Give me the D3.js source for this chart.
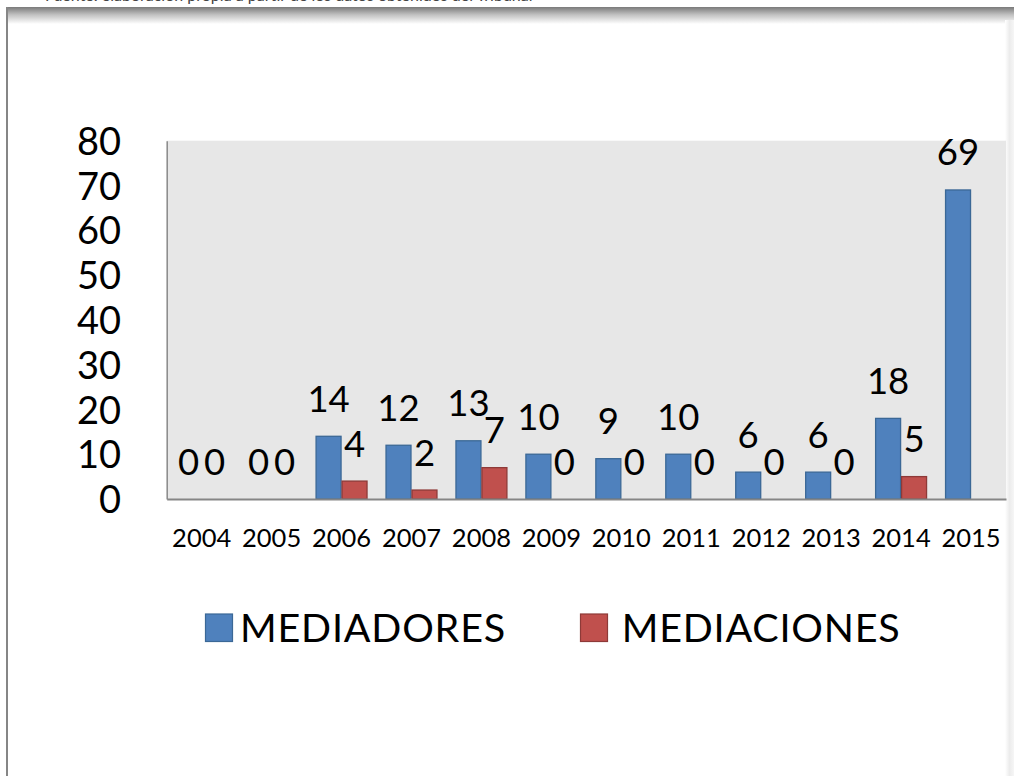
<!DOCTYPE html>
<html>
<head>
<meta charset="utf-8">
<script src="https://cdn.jsdelivr.net/npm/d3@7"></script>
<style>
  html, body { margin: 0; padding: 0; background: #ffffff; }
  svg { display: block; }
</style>
</head>
<body>
<div id="chart-container"></div>
<script>
// values
var years = ["2004", "2005", "2006", "2007", "2008", "2009", "2010", "2011", "2012", "2013", "2014", "2015"];
var mediadores = [0, 0, 14, 12, 13, 10, 9, 10, 6, 6, 18, 69];
var mediaciones = [0, 0, 4, 2, 7, 0, 0, 0, 0, 0, 5, null];
var seriesNames = ["MEDIADORES", "MEDIACIONES"];
var yTicks = [0, 10, 20, 30, 40, 50, 60, 70, 80];

var outterWidth = 1014;
var outterHeight = 776;
var plot = {left: 166.7, right: 1006, top: 140.7, bottom: 499};
var fontName = "Lato, 'Open Sans', sans-serif";
var fills = {MEDIADORES: "#4f81bd", MEDIACIONES: "#c0504d"};
var strokes = {MEDIADORES: "#3b6896", MEDIACIONES: "#8e3a38"};

var svg = d3.select("div#chart-container").append("svg")
  .attr("width", outterWidth)
  .attr("height", outterHeight);

var defs = svg.append("defs");

// shaded top edge of the text box the chart sits in
var topShade = defs.append("linearGradient")
  .attr("id", "topShade")
  .attr("x1", 0).attr("y1", 0).attr("x2", 0).attr("y2", 1);
topShade.append("stop").attr("offset", "0%").attr("stop-color", "#7a7a7a");
topShade.append("stop").attr("offset", "45%").attr("stop-color", "#c0c0c0");
topShade.append("stop").attr("offset", "100%").attr("stop-color", "#ffffff");

var rightShade = defs.append("linearGradient")
  .attr("id", "rightShade")
  .attr("x1", 0).attr("y1", 0).attr("x2", 1).attr("y2", 0);
rightShade.append("stop").attr("offset", "0%").attr("stop-color", "#ffffff");
rightShade.append("stop").attr("offset", "50%").attr("stop-color", "#ececec");
rightShade.append("stop").attr("offset", "100%").attr("stop-color", "#f6f6f6");

// caption above, mostly cut off by the page edge
svg.append("text")
  .attr("x", 45).attr("y", 1)
  .attr("font-family", fontName)
  .attr("font-size", "16px")
  .attr("fill", "#444")
  .text("Fuente: elaboración propia a partir de los datos obtenidos del Tribunal");

svg.append("rect")
  .attr("x", 6).attr("y", 7)
  .attr("width", outterWidth - 6).attr("height", 17)
  .attr("fill", "url(#topShade)");

svg.append("rect")
  .attr("x", 1005).attr("y", 20)
  .attr("width", 9).attr("height", outterHeight - 20)
  .attr("fill", "url(#rightShade)");

svg.append("line")
  .attr("x1", 7).attr("x2", 7)
  .attr("y1", 7).attr("y2", outterHeight)
  .attr("stroke", "#868686")
  .attr("stroke-width", 2);

// scales
var x0 = d3.scaleBand()
  .domain(years)
  .range([plot.left, plot.right])
  .padding(0);

var x1 = d3.scaleBand()
  .domain(seriesNames)
  .range([9, x0.bandwidth() - 9])
  .padding(0);

var y = d3.scaleLinear()
  .domain([0, 80])
  .range([plot.bottom, plot.top]);

// plot area
svg.append("rect")
  .attr("x", plot.left).attr("y", plot.top)
  .attr("width", plot.right - plot.left)
  .attr("height", plot.bottom - plot.top)
  .attr("fill", "#e7e7e7");

var rows = years.map(function (yr, i) {
  return {year: yr, values: [
    {name: seriesNames[0], value: mediadores[i]},
    {name: seriesNames[1], value: mediaciones[i]}
  ]};
});

var groups = svg.append("g").attr("class", "bars")
  .selectAll("g")
  .data(rows)
  .join("g")
  .attr("transform", function (d) { return "translate(" + x0(d.year) + ",0)"; });

groups.selectAll("rect")
  .data(function (d) { return d.values.filter(function (v) { return v.value > 0; }); })
  .join("rect")
  .attr("x", function (d) { return x1(d.name) + 0.5; })
  .attr("y", function (d) { return y(d.value); })
  .attr("width", x1.bandwidth() - 1)
  .attr("height", function (d) { return y(0) - y(d.value); })
  .attr("fill", function (d) { return fills[d.name]; })
  .attr("stroke", function (d) { return strokes[d.name]; })
  .attr("stroke-width", 1.3);

// axis lines
var yAxis = svg.append("g")
  .attr("transform", "translate(" + plot.left + ",0)")
  .call(d3.axisLeft(y).tickValues(yTicks).tickSize(0).tickPadding(45.7));
yAxis.select(".domain").attr("stroke", "#8a8a8a").attr("stroke-width", 1.5);
yAxis.selectAll("text")
  .attr("font-family", fontName)
  .attr("font-size", "38px")
  .attr("fill", "#000")
  .attr("dy", "0.36em");

var xAxis = svg.append("g")
  .attr("transform", "translate(0," + plot.bottom + ")")
  .call(d3.axisBottom(x0).tickSize(0).tickPadding(0));
xAxis.select(".domain").attr("stroke", "#868686").attr("stroke-width", 2);
xAxis.selectAll("text")
  .attr("font-family", fontName)
  .attr("font-size", "25.5px")
  .attr("fill", "#000")
  .attr("y", 47.7)
  .attr("dy", 0);

// data labels
groups.selectAll("text.value")
  .data(function (d) { return d.values.filter(function (v) { return v.value !== null; }); })
  .join("text")
  .attr("class", "value")
  .attr("x", function (d) { return x1(d.name) + x1.bandwidth() / 2; })
  .attr("y", function (d) { return y(d.value) - 24.5; })
  .attr("text-anchor", "middle")
  .attr("font-family", fontName)
  .attr("font-size", "36.5px")
  .attr("fill", "#000")
  .text(function (d) { return d.value; });

// legend
var legendX = [205, 580];
var legend = svg.append("g").attr("class", "legend")
  .selectAll("g")
  .data(seriesNames)
  .join("g")
  .attr("transform", function (d, i) { return "translate(" + legendX[i] + ",613.5)"; });

legend.append("rect")
  .attr("x", 0.5).attr("y", 0.5)
  .attr("width", 27).attr("height", 27.5)
  .attr("fill", function (d) { return fills[d]; })
  .attr("stroke", function (d) { return strokes[d]; })
  .attr("stroke-width", 1.2);

legend.append("text")
  .attr("x", function (d, i) { return i === 0 ? 35 : 41.7; })
  .attr("y", 28.2)
  .attr("font-family", fontName)
  .attr("font-size", "39.5px")
  .attr("letter-spacing", "0.8px")
  .attr("fill", "#000")
  .text(function (d) { return d; });
</script>
</body>
</html>
